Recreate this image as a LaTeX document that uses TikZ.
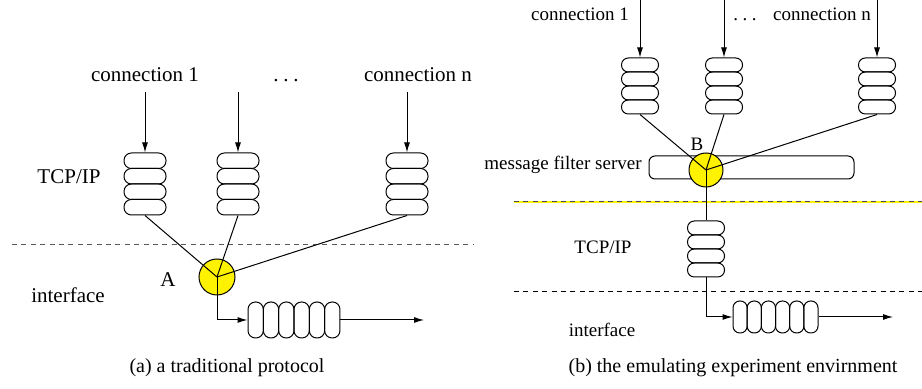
\documentclass[tikz,border=0pt]{standalone}
\usepackage{fontspec}
\setmainfont{Liberation Serif}
\usetikzlibrary{arrows.meta}

\begin{document}
\begin{tikzpicture}[x=0.5pt,y=-0.5pt,line width=0.5pt,>={Latex[length=5pt,width=3pt]},
  lslot/.style={draw,inner sep=0pt,rounded corners=3.7pt,minimum width=21pt,minimum height=7.75pt},
  lhslot/.style={draw,inner sep=0pt,rounded corners=3.7pt,minimum width=7.67pt,minimum height=18pt},
  rslot/.style={draw,inner sep=0pt,rounded corners=3.4pt,minimum width=18.5pt,minimum height=7pt},
  rhslot/.style={draw,inner sep=0pt,rounded corners=3.4pt,minimum width=7.08pt,minimum height=16pt},
  hub/.style={draw,circle,fill=yellow,inner sep=0pt},
  server/.style={draw,rounded corners=3pt,inner sep=0pt,minimum width=102.5pt,minimum height=11.5pt},
  ltext/.style={inner sep=0pt,anchor=base,font=\fontsize{10.5}{12}\selectfont},
  rtext/.style={inner sep=0pt,anchor=base,font=\fontsize{9.5}{11}\selectfont},
  captext/.style={inner sep=0pt,anchor=base,font=\fontsize{10}{12}\selectfont},
  sep/.style={dash pattern=on 2.5pt off 2.2pt}]
  \useasboundingbox (0,0) rectangle (922,389);

  % (a) left side
  \draw[sep,black!65] (12,245) -- (473,245);
  \node[ltext] (lc1) at (145,82) {connection 1};
  \node[ltext] (ldots) at (286,82) {.\hspace{2.4pt}.\hspace{2.4pt}.};
  \node[ltext] (lcn) at (418,82) {connection n};
  \node[ltext] (ltcp) at (69,184) {TCP/IP};
  \node[ltext] (lif) at (68,303) {interface};
  \node[ltext] (la) at (168,287) {A};
  \foreach \n/\x in {1/145,2/238,3/407}{
    \coordinate (li\n) at (\x,92);
    \foreach \k in {0,...,3}
      \node[lslot] (l\n-\k) at (\x,{160.75+15.5*\k}) {};
    \draw[->] (li\n) -- (l\n-0.north);
  }
  \node[hub,minimum size=18pt] (A) at (217,277) {};
  \foreach \n in {1,2,3}
    \draw (l\n-3.south) -- (A.center);
  \foreach \k in {0,...,5}
    \node[lhslot] (lq-\k) at ({255.67+15.33*\k},320) {};
  \draw[->] (A.center) |- (lq-0.west);
  \coordinate (lout) at (424,320);
  \draw[->] (lq-5.east) -- (lout);
  \node[captext] (capa) at (227,373) {(a) a traditional protocol};

  % (b) right side
  \draw[yellow,line width=1pt] (514,202) -- (922,202);
  \draw[sep,black!70] (514,202) -- (922,202);
  \draw[sep] (514,292) -- (922,292);
  \node[rtext] (rc1) at (580,21) {connection 1};
  \node[rtext] (rdots) at (745,21) {.\hspace{2.2pt}.\hspace{2.2pt}.};
  \node[rtext] (rcn) at (822,21) {connection n};
  \node[rtext] (rmfs) at (563,170) {message filter server};
  \node[rtext] (rtcp) at (603,254) {TCP/IP};
  \node[rtext] (rif) at (602,337) {interface};
  \node[rtext] (rb) at (697,151) {B};
  \foreach \n/\x in {1/640,2/724,3/877}{
    \coordinate (ri\n) at (\x,0);
    \foreach \k in {0,...,3}
      \node[rslot] (r\n-\k) at (\x,{65+14*\k}) {};
    \draw[->] (ri\n) -- (r\n-0.north);
  }
  \node[server] (srv) at (751.5,167.5) {};
  \node[hub,minimum size=17pt] (B) at (706,170) {};
  \foreach \n in {1,2,3}
    \draw (r\n-3.south) -- (B.center);
  \foreach \k in {0,...,3}
    \node[rslot] (r4-\k) at (706,{228+14*\k}) {};
  \draw (B.center) -- (r4-0.north);
  \foreach \k in {0,...,5}
    \node[rhslot] (rq-\k) at ({740.08+14.17*\k},317) {};
  \draw[->] (r4-3.south) |- (rq-0.west);
  \coordinate (rout) at (893,317);
  \draw[->] (rq-5.east) -- (rout);
  \node[captext] (capb) at (733,373) {(b) the emulating experiment envirnment};
\end{tikzpicture}
\end{document}
